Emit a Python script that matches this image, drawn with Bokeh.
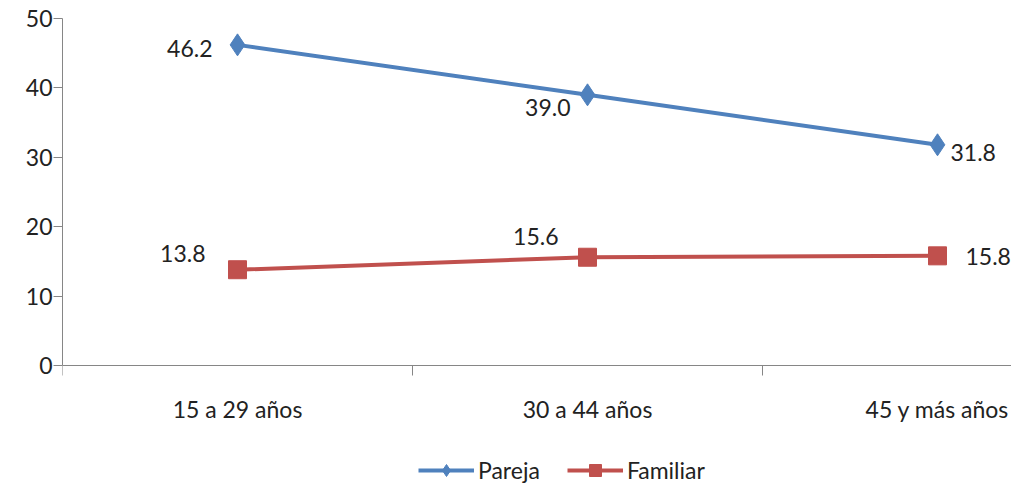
from bokeh.plotting import figure
from bokeh.models import (ColumnDataSource, FixedTicker, Range1d, Legend, LegendItem)
from bokeh.core.properties import value
from bokeh.embed import file_html
from bokeh.resources import INLINE

categories = ["15 a 29 años", "30 a 44 años", "45 y más años"]
pareja = [46.2, 39.0, 31.8]
familiar = [13.8, 15.6, 15.8]
y_ticks = [0, 10, 20, 30, 40, 50]

FONT = "Lato"
FS = "23px"
TXT = "#222222"
BLUE = "#4F81BD"
RED = "#C0504D"
AXC = "#868686"

W, H = 1011, 483
LEFT, TOP = 62, 18
ZERO_Y = 365            # pixel row of value 0
CAT_W = 350             # pixel width of one category
ppu = (ZERO_Y - TOP) / 50.0
y_lo = 50 - (H - TOP) / ppu

xpos = [i + 0.5 for i in range(len(categories))]

p = figure(width=W, height=H, output_backend="svg", toolbar_location=None,
           x_range=Range1d(0, (W - LEFT) / CAT_W), y_range=Range1d(y_lo, 50),
           min_border_left=LEFT, min_border_right=0, min_border_top=TOP,
           min_border_bottom=0)
p.outline_line_color = None
p.background_fill_color = "white"
p.border_fill_color = "white"

# axes
p.xaxis.fixed_location = 0
p.xaxis.ticker = FixedTicker(ticks=xpos, minor_ticks=list(range(len(categories))))
p.xaxis.major_label_overrides = {x: c for x, c in zip(xpos, categories)}
p.xaxis.minor_tick_line_color = AXC
p.xaxis.minor_tick_out = 10
p.xaxis.minor_tick_in = 0
p.xaxis.major_label_standoff = 19
p.yaxis.bounds = (0, 50)
p.yaxis.ticker = FixedTicker(ticks=y_ticks)
p.yaxis.minor_tick_line_color = None
p.yaxis.major_tick_out = 9
p.yaxis.major_tick_in = 0
p.yaxis.major_label_standoff = 1
for ax in (p.xaxis, p.yaxis):
    ax.axis_line_color = AXC
    ax.major_label_text_font = FONT
    ax.major_label_text_font_size = FS
    ax.major_label_text_color = TXT
p.yaxis.major_tick_line_color = AXC
p.xaxis.major_tick_line_color = None
p.xgrid.grid_line_color = None
p.ygrid.ticker = FixedTicker(ticks=[50])
p.ygrid.grid_line_color = AXC

src_p = ColumnDataSource(dict(x=xpos, y=pareja, t=[f"{v:.1f}" for v in pareja],
                              align=["right", "right", "left"],
                              dx=[-25, -17, 13], dy=[4, 13, 8]))
src_f = ColumnDataSource(dict(x=xpos, y=familiar, t=[f"{v:.1f}" for v in familiar],
                              align=["right", "right", "left"],
                              dx=[-32, -29, 28], dy=[-16, -21, 1]))

lp = p.line("x", "y", source=src_p, line_color=BLUE, line_width=4)
mp = p.scatter("x", "y", source=src_p, marker="diamond", size=22, fill_color=BLUE, line_color=BLUE)
lf = p.line("x", "y", source=src_f, line_color=RED, line_width=4)
mf = p.scatter("x", "y", source=src_f, marker="square", size=18, fill_color=RED, line_color=RED)

# data labels
for src in (src_p, src_f):
    p.text("x", "y", text="t", source=src, text_align="align", text_baseline="middle",
           x_offset="dx", y_offset="dy",
           text_font=value(FONT), text_font_size=FS, text_color=TXT)

legend = Legend(items=[LegendItem(label="Pareja", renderers=[lp, mp]),
                       LegendItem(label="Familiar", renderers=[lf, mf])],
                orientation="horizontal", location=(356, -2),
                glyph_width=56, glyph_height=30, label_standoff=4, spacing=27,
                padding=0, margin=0, border_line_color=None, background_fill_alpha=0,
                label_text_font=FONT, label_text_font_size=FS, label_text_color=TXT)
p.add_layout(legend, "center")

open("out.html", "w").write(file_html(p, INLINE))
